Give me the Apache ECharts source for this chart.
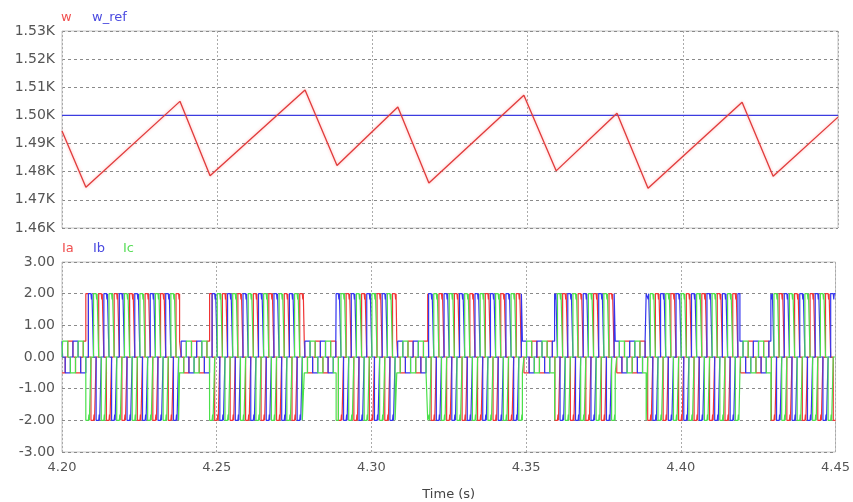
<!DOCTYPE html>
<html>
<head>
<meta charset="utf-8">
<script src="https://cdn.jsdelivr.net/npm/echarts@6/dist/echarts.min.js"></script>
<style>
html,body{margin:0;padding:0;background:#fff;}
#chart{width:853px;height:502px;}
</style>
</head>
<body>
<div id="chart"></div>
<script>
// ---- Top panel: speed w (sawtooth corners) and reference w_ref ----
const wTimes  = [4.2000, 4.2077, 4.2380, 4.2477, 4.2783, 4.2886, 4.3082, 4.3182, 4.3488, 4.3592, 4.3788, 4.3888, 4.4191, 4.4291, 4.4500];
const wValues = [1494.5, 1474.5, 1505.0, 1478.6, 1509.0, 1482.2, 1503.0, 1476.0, 1507.2, 1480.3, 1500.8, 1474.1, 1504.7, 1478.4, 1499.4];
const wRefValue = 1500;
const timeRange = [4.20, 4.45];
const wTickLabels = ['1.46K','1.47K','1.48K','1.49K','1.50K','1.51K','1.52K','1.53K'];

// ---- Bottom panel: phase currents Ia, Ib, Ic ----
// current magnitude segments (start time of each segment, amplitude in A)
const modeTimes = [4.2000, 4.2077, 4.2380, 4.2477, 4.2783, 4.2886, 4.3082, 4.3182, 4.3488, 4.3592, 4.3788, 4.3888, 4.4191, 4.4291];
const modeAmps  = [0.5,    2.0,    0.5,    2.0,    0.5,    2.0,    0.5,    2.0,    0.5,    2.0,    0.5,    2.0,    0.5,    2.0];
// six-step conduction table (sign per commutation state)
const IaSteps = [ 1,  1,  0, -1, -1,  0];
const IbSteps = [-1,  0,  1,  1,  0, -1];
const IcSteps = [ 0, -1, -1,  0,  1,  1];
const firstState = 3;            // state seen at 4.20 s (Ib +, Ia -)
const firstCommutation = 4.2002;
const commutationInterval = 0.000833;
const rippleDepth = 0.09;        // small commutation notch seen on the flat tops
const rippleWidth = 0.00016;

function ampAt(t){
  let a = modeAmps[0];
  for (let i=0;i<modeTimes.length;i++){ if (t >= modeTimes[i]-1e-9) a = modeAmps[i]; }
  return a;
}
function stateAt(t){
  if (t < firstCommutation - 1e-9) return firstState;
  const k = Math.floor((t - firstCommutation)/commutationInterval + 1e-6) + 1;
  return (firstState + k) % 6;
}
function buildPhase(table){
  const comm = [];
  for (let k=0; ; k++){ const t = firstCommutation + k*commutationInterval; if (t >= timeRange[1]) break; comm.push(+t.toFixed(6)); }
  const ev = [timeRange[0]].concat(comm, modeTimes.slice(1)).sort((a,b)=>a-b);
  const pts = [];
  let prev = null;
  ev.forEach((t)=>{
    const v = ampAt(t)*table[stateAt(t)];
    if (prev === null) { pts.push([t, v]); prev = v; return; }
    if (v !== prev){ pts.push([t, prev]); pts.push([t, v]); }
    else if (Math.abs(v) > 1 && comm.indexOf(t) >= 0 && t + 2*rippleWidth < timeRange[1]){
      pts.push([t, v]); pts.push([+(t+rippleWidth).toFixed(6), v*(1-rippleDepth)]); pts.push([+(t+2*rippleWidth).toFixed(6), v]);
    }
    prev = v;
  });
  pts.push([timeRange[1], prev]);
  return pts;
}

const wData = wTimes.map((t,i)=>[t, wValues[i]]);
const wRefData = [[timeRange[0], wRefValue],[timeRange[1], wRefValue]];

const chart = echarts.init(document.getElementById('chart'), null, {renderer:'canvas'});
const FONT = 'DejaVu Sans';
const labelColor = '#555';
const splitY = {show:true, lineStyle:{color:'#8a8a8a', type:[3,3], width:1}};
const splitX = {show:true, lineStyle:{color:'#aaaaaa', type:[2,2], width:1}};

chart.setOption({
  animation:false,
  backgroundColor:'#ffffff',
  grid:[
    {left:62, right:15, top:31, height:197, show:true, borderColor:'#c4c4c4', borderWidth:1, backgroundColor:'transparent'},
    {left:62, right:15, top:262, height:195, show:true, borderColor:'#c4c4c4', borderWidth:1, backgroundColor:'transparent'}
  ],
  xAxis:[
    {type:'value', gridIndex:0, min:timeRange[0], max:timeRange[1], interval:0.05,
     axisLine:{show:false}, axisTick:{show:false}, axisLabel:{show:false}, splitLine:splitX},
    {type:'value', gridIndex:1, min:timeRange[0], max:timeRange[1], interval:0.05,
     axisLine:{show:false}, axisTick:{show:false}, splitLine:splitX,
     axisLabel:{show:true, color:labelColor, fontFamily:FONT, fontSize:13, margin:9,
       formatter:v=>v.toFixed(2)},
     name:'Time (s)', nameLocation:'middle', nameGap:36,
     nameTextStyle:{color:'#444', fontFamily:FONT, fontSize:13}}
  ],
  yAxis:[
    {type:'value', gridIndex:0, min:1460, max:1530, interval:10,
     axisLine:{show:false}, axisTick:{show:false}, splitLine:splitY,
     axisLabel:{color:labelColor, fontFamily:FONT, fontSize:14, margin:7,
       formatter:v=>wTickLabels[Math.round((v-1460)/10)]}},
    {type:'value', gridIndex:1, min:-3, max:3, interval:1,
     axisLine:{show:false}, axisTick:{show:false}, splitLine:splitY,
     axisLabel:{color:labelColor, fontFamily:FONT, fontSize:14, margin:7,
       formatter:v=>v.toFixed(2)}}
  ],
  graphic:[
    {type:'text', left:61, top:11, style:{text:'w', fill:'#f05050', font:'13px "DejaVu Sans"'}},
    {type:'text', left:92, top:11, style:{text:'w_ref', fill:'#4a4ae0', font:'13px "DejaVu Sans"'}},
    {type:'text', left:62, top:242, style:{text:'Ia', fill:'#f05050', font:'13px "DejaVu Sans"'}},
    {type:'text', left:93, top:242, style:{text:'Ib', fill:'#4a4ae0', font:'13px "DejaVu Sans"'}},
    {type:'text', left:123, top:242, style:{text:'Ic', fill:'#5ade5a', font:'13px "DejaVu Sans"'}}
  ],
  series:[
    {name:'w_ref', type:'line', xAxisIndex:0, yAxisIndex:0, data:wRefData, showSymbol:false,
     lineStyle:{color:'#3c3ce0', width:1.3}},
    {name:'w', type:'line', xAxisIndex:0, yAxisIndex:0, data:wData, showSymbol:false,
     lineStyle:{color:'#e03c3c', width:1.3, shadowColor:'rgba(255,120,120,0.6)', shadowBlur:3}},
    {name:'Ia', type:'line', xAxisIndex:1, yAxisIndex:1, data:buildPhase(IaSteps), showSymbol:false,
     lineStyle:{color:'#f03535', width:1.2}},
    {name:'Ib', type:'line', xAxisIndex:1, yAxisIndex:1, data:buildPhase(IbSteps), showSymbol:false,
     lineStyle:{color:'#3535f0', width:1.2}},
    {name:'Ic', type:'line', xAxisIndex:1, yAxisIndex:1, data:buildPhase(IcSteps), showSymbol:false,
     lineStyle:{color:'#4be04b', width:1.2}}
  ]
});
</script>
</body>
</html>
